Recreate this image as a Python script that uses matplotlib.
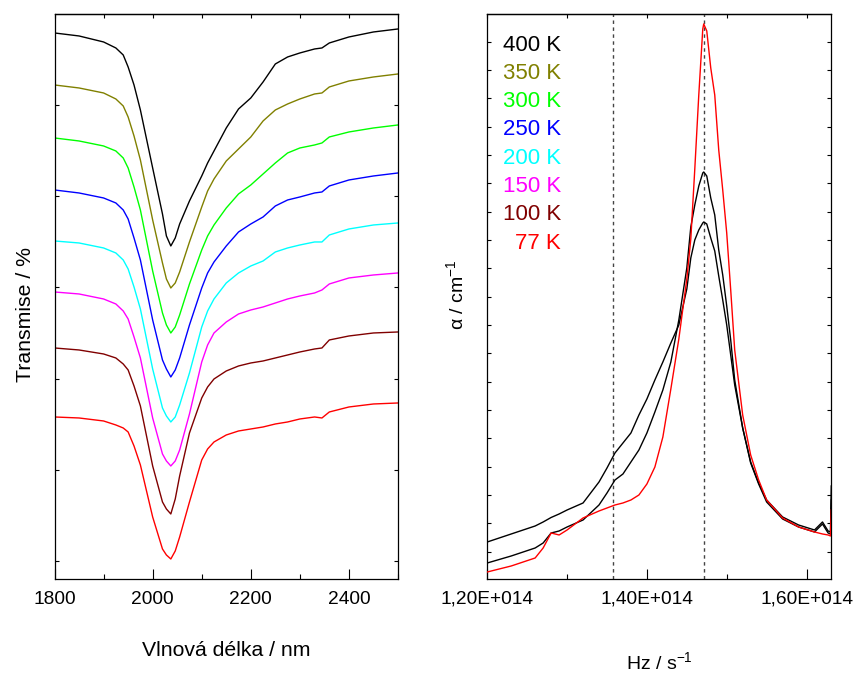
import matplotlib
matplotlib.use("Agg")
import matplotlib.pyplot as plt
from matplotlib.ticker import FixedLocator, MultipleLocator, FuncFormatter

plt.rcParams['font.family'] = ['Liberation Sans', 'DejaVu Sans']
plt.rcParams['mathtext.fontset'] = 'custom'
plt.rcParams['mathtext.rm'] = 'Liberation Sans'
plt.rcParams['mathtext.default'] = 'regular'

# ---- left panel: stacked transmission spectra (arbitrary units) ----
wavelength = [1800, 1850, 1900, 1925, 1940, 1950, 1962, 1975, 2000, 2020, 2028, 2037, 2046, 2055, 2075,
              2100, 2112, 2125, 2150, 2175, 2200, 2225, 2250, 2275, 2300, 2330, 2345, 2360, 2400, 2450, 2500]

t_400 = [546, 543, 537, 531, 524, 512, 494, 469, 411, 365, 343, 333, 341, 355, 378,
         403, 416, 428, 451, 470, 481, 497, 515, 522, 526, 530, 531, 536, 542, 547, 550]
t_350 = [494, 491, 486, 480, 473, 462, 443, 419, 359, 316, 300, 291, 296, 307, 337,
         372, 388, 400, 418, 430, 442, 458, 469, 475, 480, 485, 486, 492, 498, 502, 505]
t_300 = [441, 438, 433, 428, 421, 411, 392, 369, 308, 266, 254, 246, 252, 264, 295,
         329, 343, 354, 371, 385, 394, 405, 416, 426, 431, 434, 436, 442, 447, 451, 454]
t_250 = [389, 386, 381, 376, 369, 360, 341, 319, 259, 219, 210, 202, 209, 221, 254,
         291, 306, 317, 333, 347, 355, 362, 373, 379, 382, 386, 387, 393, 399, 403, 406]
t_200 = [338, 336, 331, 326, 319, 310, 292, 270, 210, 171, 163, 157, 162, 174, 206,
         252, 268, 280, 296, 306, 313, 318, 327, 331, 334, 337, 337, 344, 350, 354, 356]
t_150 = [287, 285, 280, 275, 268, 260, 242, 221, 161, 125, 118, 113, 118, 129, 165,
         217, 234, 246, 257, 265, 269, 272, 276, 280, 283, 286, 289, 295, 301, 304, 306]
t_100 = [231, 229, 225, 221, 215, 209, 193, 173, 113, 77, 70, 65, 80, 103, 146,
         181, 192, 200, 208, 213, 216, 218, 221, 224, 227, 230, 231, 239, 243, 246, 247]
t_77 = [162, 161, 158, 154, 151, 147, 133, 114, 62, 30, 24, 20, 28, 42, 77,
        119, 130, 137, 144, 148, 150, 152, 155, 157, 160, 162, 161, 167, 172, 175, 176]

temp_labels = ['400 K', '350 K', '300 K', '250 K', '200 K', '150 K', '100 K', '77 K']
temp_colors = ['#000000', '#808000', '#00ff00', '#0000ff', '#00ffff', '#ff00ff', '#800000', '#ff0000']
spectra = [t_400, t_350, t_300, t_250, t_200, t_150, t_100, t_77]

# ---- right panel: absorption vs frequency ----
freq = [1.20e14, 1.23e14, 1.26e14, 1.27e14, 1.28e14, 1.29e14, 1.30e14, 1.32e14, 1.34e14, 1.35e14,
        1.36e14, 1.37e14, 1.38e14, 1.39e14, 1.40e14, 1.41e14, 1.42e14, 1.43e14, 1.44e14, 1.45e14,
        1.455e14, 1.46e14, 1.465e14, 1.47e14, 1.4712e14, 1.475e14, 1.48e14, 1.485e14, 1.49e14, 1.495e14,
        1.50e14, 1.505e14, 1.51e14, 1.52e14, 1.53e14, 1.54e14, 1.55e14, 1.57e14, 1.59e14, 1.61e14,
        1.62e14, 1.627e14, 1.630e14, 1.631e14]

alpha_a = [37, 45, 53, 57, 61.5, 65, 69, 76, 97, 111,
           126, 136, 146, 164, 180, 199, 217, 236, 254, 290,
           321, 339, 349, 356, 357, 355, 341, 328, 303, 279,
           254, 224, 194, 151, 117, 96, 79, 62, 54, 49,
           57, 48, 47, 93]
alpha_b = [16, 23, 31, 36, 46, 48, 52, 59, 74, 86,
           99, 105, 117, 129, 146, 167, 189, 217, 259, 311,
           352, 374, 393, 406, 407, 403, 381, 364, 329, 304,
           273, 239, 199, 151, 116, 95, 77, 60, 52, 47,
           55, 46, 45, 79]
alpha_77 = [7, 13, 21, 31, 46, 44, 49, 61, 68, 71,
            74, 76, 79, 84, 95, 112, 142, 190, 240, 300,
            340, 410, 484, 550, 555, 548, 511, 484, 429, 389,
            346, 289, 229, 164, 124, 99, 79, 61, 52, 47,
            45, 44, 43, 69]

marker_freq = [1.357e14, 1.471e14]


def sci_comma(x, pos):
    m, e = f"{x:.2E}".split('E')
    return m.replace('.', ',') + 'E' + e[0] + e[1:].zfill(3)


fig = plt.figure(figsize=(8.6, 6.73), dpi=100)
ax1 = fig.add_axes([0.0634, 0.1397, 0.3994, 0.8388])
ax2 = fig.add_axes([0.5666, 0.1397, 0.4, 0.8388])

for ys, c in zip(spectra, temp_colors):
    ax1.plot(wavelength, ys, color=c, lw=1.0)

ax1.set_xlim(1800, 2500)
ax1.set_ylim(0, 564.5)
ax1.xaxis.set_major_locator(MultipleLocator(200))
ax1.xaxis.set_minor_locator(MultipleLocator(100))
ax1.yaxis.set_major_locator(FixedLocator([18 + 91.2 * k for k in range(6)]))
ax1.set_yticklabels([])
ax1.set_xlabel('Vlnová délka / nm', fontsize=15.3, labelpad=24)
ax1.set_ylabel('Transmise / %', fontsize=15.3)
ax1.yaxis.set_label_coords(-0.057, 0.469)

for x in marker_freq:
    ax2.axvline(x, color='#444444', lw=1.0, ls=(0, (2.5, 2.5)), zorder=1)
ax2.plot(freq, alpha_a, color='black', lw=1.0, zorder=2)
ax2.plot(freq, alpha_b, color='black', lw=1.0, zorder=2)
ax2.plot(freq, alpha_77, color='#ff0000', lw=1.0, zorder=3)

ax2.set_xlim(1.2e14, 1.631e14)
ax2.set_ylim(0, 564.5)
ax2.xaxis.set_major_locator(FixedLocator([1.2e14, 1.4e14, 1.6e14]))
ax2.xaxis.set_minor_locator(FixedLocator([1.3e14, 1.5e14]))
ax2.xaxis.set_major_formatter(FuncFormatter(sci_comma))
ax2.yaxis.set_major_locator(FixedLocator([27.3 + 28.33 * k for k in range(19)]))
ax2.set_yticklabels([])
ax2.set_xlabel('Hz / s$^{-1}$', fontsize=14, labelpad=31)
ax2.set_ylabel('α / cm$^{-1}$', fontsize=14)
ax2.yaxis.set_label_coords(-0.058, 0.503)

for i, (lab, c) in enumerate(zip(temp_labels, temp_colors)):
    ax2.text(0.214, 0.936 - 0.0501 * i, lab, color=c, fontsize=16,
             ha='right', va='baseline', transform=ax2.transAxes)

for ax in (ax1, ax2):
    for s in ax.spines.values():
        s.set_linewidth(0.9)
    ax.tick_params(axis='x', which='major', direction='in', length=7, width=0.8,
                   labelsize=13.8, pad=8.5, top=False)
    ax.tick_params(axis='x', which='minor', direction='in', length=3.6, width=0.8, top=False)
    ax.tick_params(axis='y', which='major', direction='in', length=3.2, width=0.8,
                   left=True, right=True)
    top = ax.secondary_xaxis('top')
    top.set_xticks(list(ax.get_xticks(minor=False)) + list(ax.get_xticks(minor=True)))
    top.tick_params(direction='in', length=3.2, width=0.8, labeltop=False)
    top.spines['top'].set_linewidth(0.9)

fig.savefig('out.png', dpi=100)
